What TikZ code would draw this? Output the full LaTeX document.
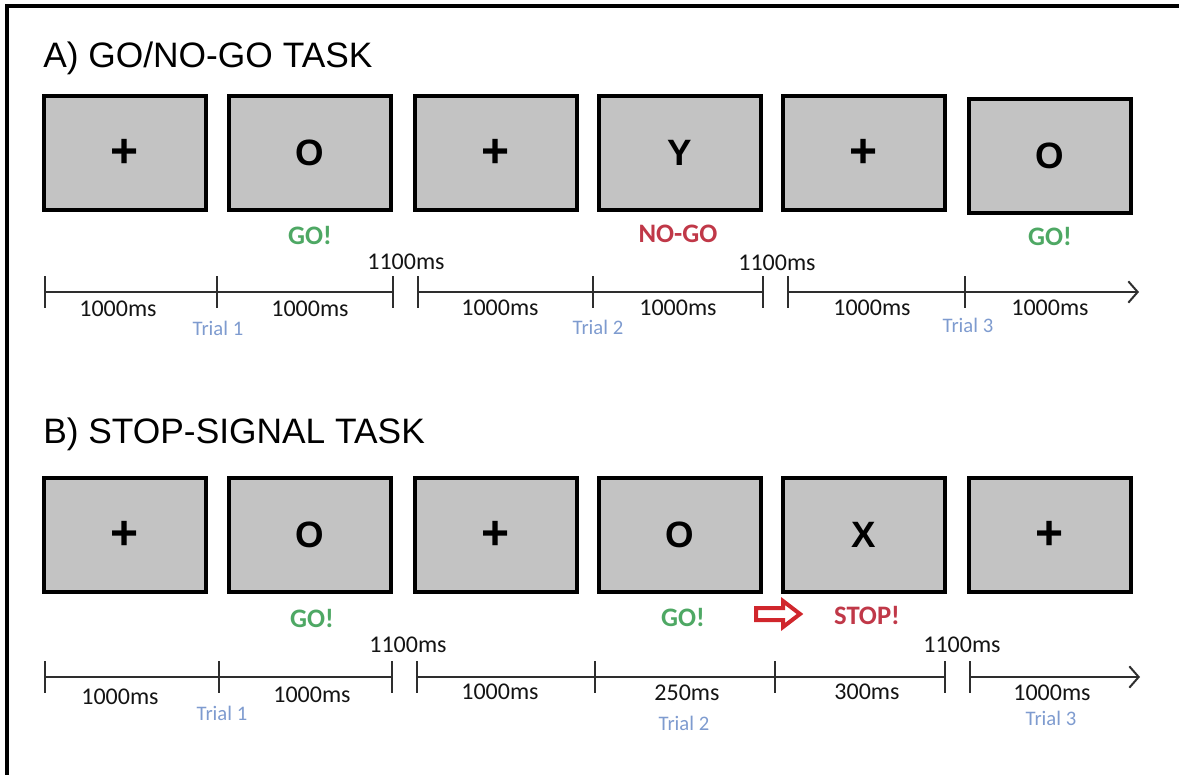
\documentclass[tikz,border=0pt]{standalone}
\usepackage{fontspec}
\setmainfont{Liberation Sans}
\newfontfamily\calfont{Carlito}
\usetikzlibrary{arrows.meta}
\definecolor{screengray}{HTML}{C3C3C3}
\definecolor{gogreen}{HTML}{4EA864}
\definecolor{stopred}{HTML}{C03848}
\definecolor{trialblue}{HTML}{7E9BCF}
\definecolor{arrowred}{HTML}{D0262C}
\definecolor{axisgray}{HTML}{2E2E2E}
\begin{document}
\begin{tikzpicture}[x=0.75pt,y=-0.75pt,
  screen/.style={draw=black, line width=3pt, fill=screengray,
    minimum width=121.5pt, minimum height=86pt, inner sep=0pt,
    font=\fontsize{27.5}{30}\selectfont\bfseries},
  fix/.style={screen, font=\fontsize{36}{38}\selectfont\bfseries},
  title/.style={anchor=base west, inner sep=0pt, font=\fontsize{26.5}{30}\selectfont},
  dur/.style={inner sep=0pt, font=\calfont\fontsize{18}{20}\selectfont, text=black!92},
  trial/.style={inner sep=0pt, font=\calfont\fontsize{15.5}{18}\selectfont, text=trialblue},
  cue/.style={inner sep=0pt, font=\calfont\bfseries\fontsize{20}{22}\selectfont},
  axis/.style={draw=axisgray, line width=1.5pt},
  timearrow/.style={axis, -{Straight Barb[length=7pt,width=16pt,line width=1.5pt]}},
  signal/.style={draw=arrowred, line width=3pt, fill=white, line join=miter}
]
\useasboundingbox (0,0) rectangle (1179,775);

% frame
\draw[line width=2.3pt] (1179,6) -- (7,6) -- (7,775);

% ---------------- A) Go/No-Go ----------------
\node[title] (ta) at (43,67) {A) GO/NO-GO TASK};

\node[fix]    (a1) at (125,153) {+};
\node[screen] (a2) at (310,153) {O};
\node[fix]    (a3) at (496,153) {+};
\node[screen] (a4) at (680,153) {Y};
\node[fix]    (a5) at (864,153) {+};
\node[screen] (a6) at (1050,156) {O};

\node[cue, text=gogreen] (ga2) at (310,235) {GO!};
\node[cue, text=stopred] (ga4) at (678,234) {NO-GO};
\node[cue, text=gogreen] (ga6) at (1050,236) {GO!};

\coordinate (pa1) at (45,292);
\coordinate (pa2) at (217,292);
\coordinate (pa3) at (393,292);
\coordinate (pa4) at (418,292);
\coordinate (pa5) at (593,292);
\coordinate (pa6) at (763,292);
\coordinate (pa7) at (788,292);
\coordinate (pa8) at (965,292);
\coordinate (ea) at (1139,292);

\draw[axis] (pa1) -- (pa3);
\draw[axis] (pa4) -- (pa6);
\draw[timearrow] (pa7) -- (ea);
\foreach \c in {pa1,pa2,pa3,pa4,pa5,pa6,pa7,pa8}
  \draw[axis] ([yshift=12pt]\c) -- ([yshift=-12pt]\c);

\node[dur] (da1) at (118,309) {1000ms};
\node[dur] (da2) at (310,309) {1000ms};
\node[dur] (da3) at (500,308) {1000ms};
\node[dur] (da4) at (678,308) {1000ms};
\node[dur] (da5) at (872,308) {1000ms};
\node[dur] (da6) at (1050,308) {1000ms};
\node[dur] (ia1) at (406,262) {1100ms};
\node[dur] (ia2) at (777,263) {1100ms};
\node[trial] (ra1) at (218,328) {Trial 1};
\node[trial] (ra2) at (598,327) {Trial 2};
\node[trial] (ra3) at (968,325) {Trial 3};

% ---------------- B) Stop-signal ----------------
\node[title] (tb) at (43,443) {B) STOP-SIGNAL TASK};

\node[fix]    (b1) at (125,535) {+};
\node[screen] (b2) at (310,535) {O};
\node[fix]    (b3) at (496,535) {+};
\node[screen] (b4) at (680,535) {O};
\node[screen] (b5) at (864,535) {X};
\node[fix]    (b6) at (1050,535) {+};

\node[cue, text=gogreen] (gb2) at (312,618) {GO!};
\node[cue, text=gogreen] (gb4) at (683,617) {GO!};
\node[cue, text=stopred] (gb5) at (867,615) {STOP!};

% stop-signal arrow
\draw[signal] (756,608) -- (783,608) -- (783,601) -- (800,614) -- (783,627)
  -- (783,620) -- (756,620) -- cycle;

\coordinate (pb1) at (45,677);
\coordinate (pb2) at (219,677);
\coordinate (pb3) at (392,677);
\coordinate (pb4) at (417,677);
\coordinate (pb5) at (595,677);
\coordinate (pb6) at (775,677);
\coordinate (pb7) at (945,677);
\coordinate (pb8) at (970,677);
\coordinate (eb) at (1140,677);

\draw[axis] (pb1) -- (pb3);
\draw[axis] (pb4) -- (pb7);
\draw[timearrow] (pb8) -- (eb);
\foreach \c in {pb1,pb2,pb3,pb4,pb5,pb6,pb7,pb8}
  \draw[axis] ([yshift=12pt]\c) -- ([yshift=-12pt]\c);

\node[dur] (db1) at (120,697) {1000ms};
\node[dur] (db2) at (312,695) {1000ms};
\node[dur] (db3) at (500,692) {1000ms};
\node[dur] (db4) at (687,693) {250ms};
\node[dur] (db5) at (867,692) {300ms};
\node[dur] (db6) at (1052,693) {1000ms};
\node[dur] (ib1) at (408,645) {1100ms};
\node[dur] (ib2) at (962,645) {1100ms};
\node[trial] (rb1) at (222,713) {Trial 1};
\node[trial] (rb2) at (684,723) {Trial 2};
\node[trial] (rb3) at (1051,718) {Trial 3};
\end{tikzpicture}
\end{document}
